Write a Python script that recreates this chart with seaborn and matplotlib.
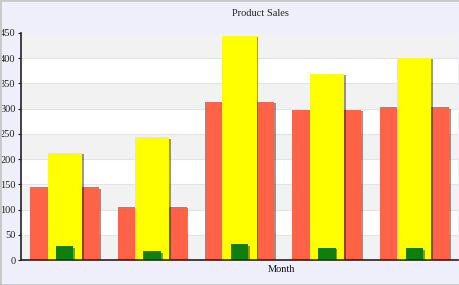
import numpy as np
import pandas as pd
import matplotlib
matplotlib.use("Agg")
import matplotlib.pyplot as plt
import matplotlib.patheffects as pe
from matplotlib.patches import Rectangle
import seaborn as sns

# values
months = ["Jan", "Feb", "Mar", "Apr", "May"]
series_a = [144, 105, 313, 298, 303]   # wide tomato bars
series_b = [212, 243, 444, 369, 401]   # yellow bars
series_c = [27, 17, 31, 24, 23]        # green bars

df = pd.DataFrame({"month": months, "a": series_a, "b": series_b, "c": series_c})

sns.set_style("white")
plt.rcParams["font.family"] = ["Liberation Serif", "DejaVu Serif"]

fig = plt.figure(figsize=(4.6, 2.85), dpi=100)
fig.patch.set_facecolor("#efeffb")
ax = fig.add_axes([21 / 460, 25 / 285, 437 / 460, 227 / 285])
ax.set_facecolor("white")

# alternating bands
for lo in range(0, 450, 100):
    ax.axhspan(lo, lo + 50, color="#f2f2f2", zorder=0, lw=0)
for y in range(50, 450, 50):
    ax.axhline(y, color="#e4e4e4", lw=0.8, zorder=0.5)

shadow = [pe.SimplePatchShadow(offset=(1.3, -1.0), shadow_rgbFace="black", alpha=0.4), pe.Normal()]

layers = [("a", "#ff6347", 0.79), ("b", "#ffff00", 0.39), ("c", "#0f7f0f", 0.2)]
for col, color, w in layers:
    n_before = len(ax.patches)
    sns.barplot(data=df, x="month", y=col, color=color, width=w, ax=ax,
                saturation=1, zorder=2)
    for p in ax.patches[n_before:]:
        p.set_path_effects(shadow)
        p.set_edgecolor("none")

ax.set_ylim(0, 450)
ax.set_xlim(-0.5, 4.5)
ax.set_yticks(range(0, 451, 50))
ax.set_xticks([])
ax.set_xlabel("")
ax.set_ylabel("")
ax.tick_params(axis="y", labelsize=7.5, length=2.5, width=0.8, pad=1.5, direction="out", left=True, colors="#222222")
for s in ["top", "right"]:
    ax.spines[s].set_visible(False)
for s in ["left", "bottom"]:
    ax.spines[s].set_color("#222222")
    ax.spines[s].set_linewidth(1.2)

fig.text(260 / 460, 1 - 13 / 285, "Product Sales", ha="center", va="center", fontsize=7.5, color="#222222")
fig.text(281 / 460, 1 - 270 / 285, "Month", ha="center", va="center", fontsize=7.5, color="#111111")

fig.patches.append(Rectangle((0, 0), 1, 1, transform=fig.transFigure, fill=False,
                             edgecolor="#c8c8c8", lw=2))

fig.savefig("out.png", dpi=100, facecolor=fig.get_facecolor())
